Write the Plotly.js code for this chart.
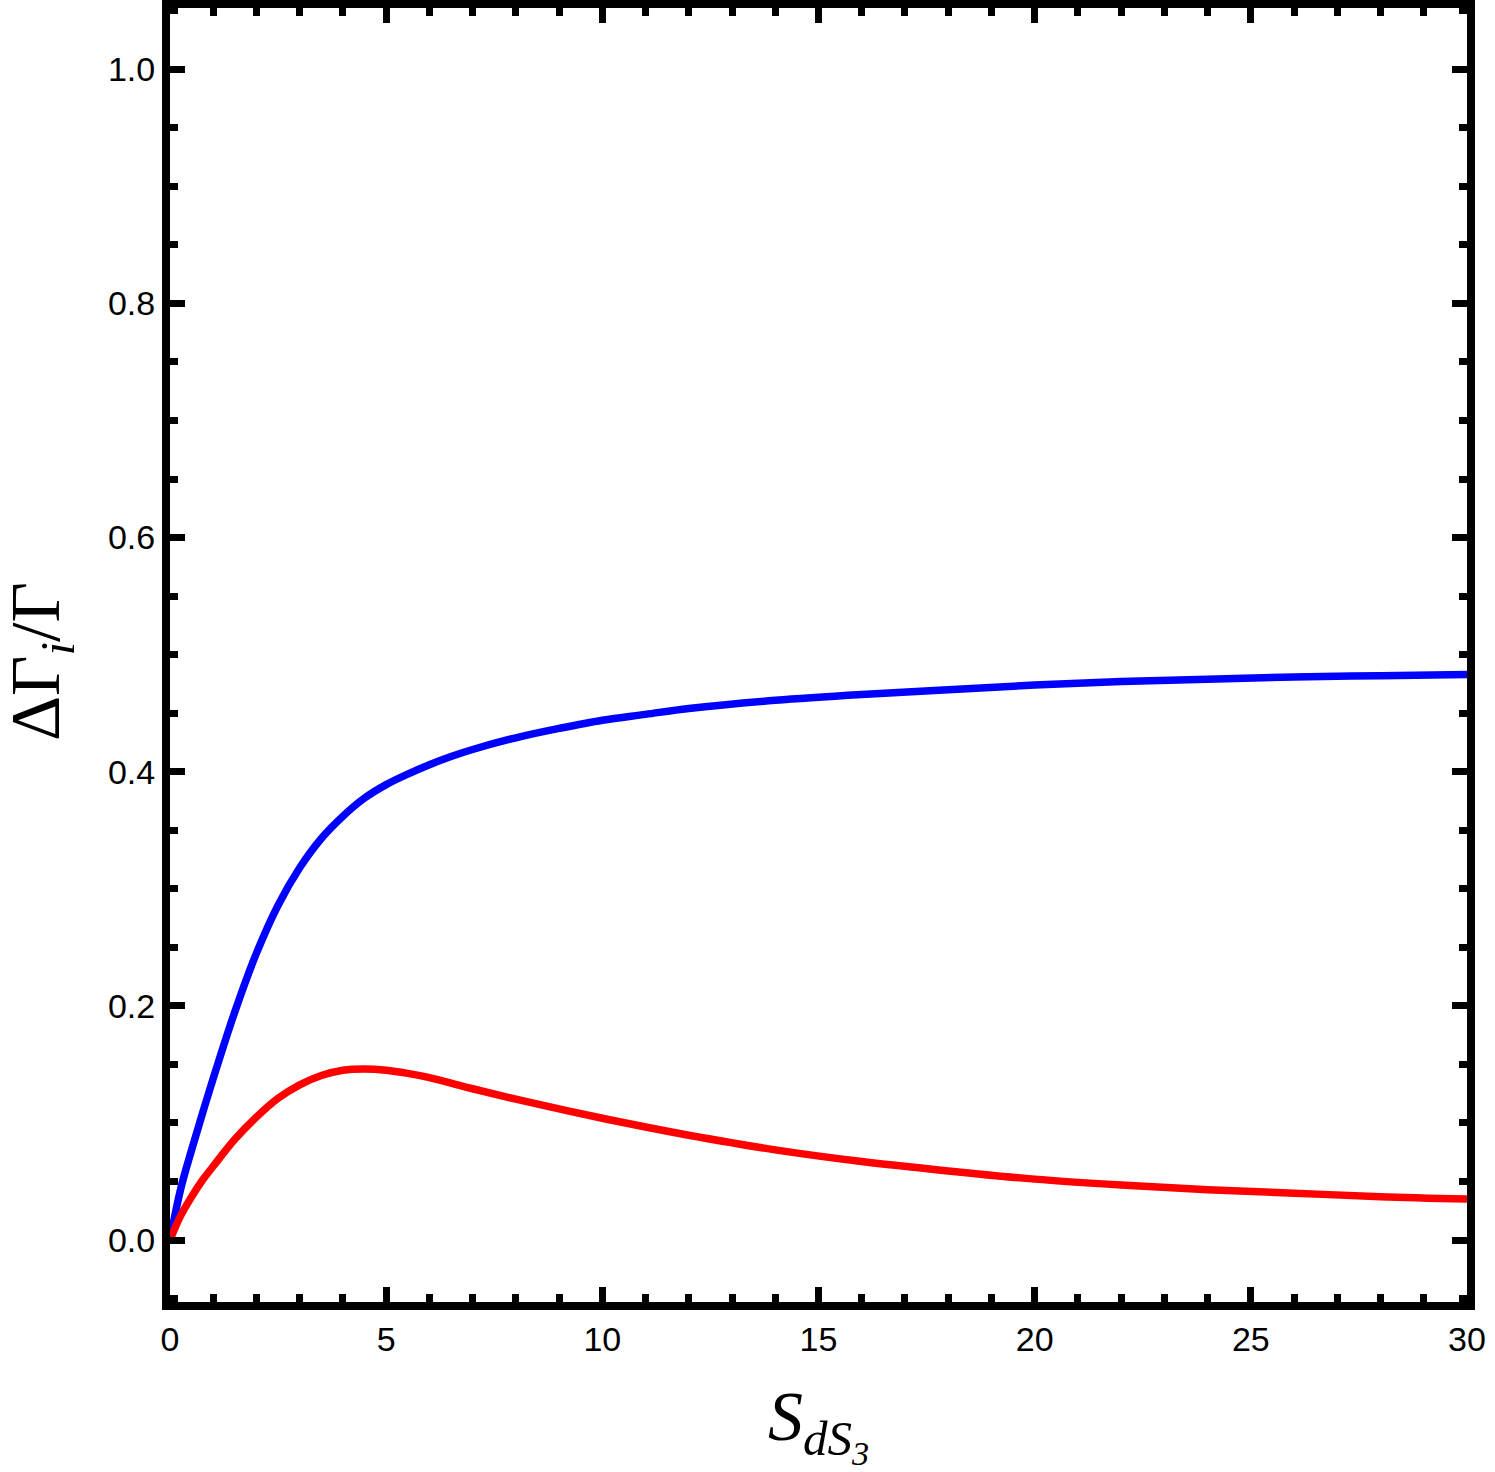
<!DOCTYPE html>
<html>
<head>
<meta charset="utf-8">
<script src="https://cdn.plot.ly/plotly-3.0.1.min.js"></script>
<style>
  html, body { margin: 0; padding: 0; background: #ffffff; }
  #chart { width: 1495px; height: 1472px; }
</style>
</head>
<body>
<div id="chart"></div>
<script>
// Values
const sValues = [0, 0.25, 0.5, 0.75, 1, 1.5, 2, 2.5, 3, 3.5, 4, 4.5, 5, 5.5, 6, 6.5, 7, 8, 9, 10, 11, 12, 14, 16, 18, 20, 22, 24, 26, 28, 30];
const blueSeries = [0, 0.044, 0.077, 0.108, 0.138, 0.195, 0.245, 0.286, 0.318, 0.343, 0.362, 0.3775, 0.389, 0.398, 0.406, 0.413, 0.419, 0.429, 0.437, 0.444, 0.449, 0.454, 0.461, 0.466, 0.470, 0.474, 0.477, 0.479, 0.481, 0.482, 0.483];
const redSeries  = [0, 0.021, 0.037, 0.051, 0.063, 0.086, 0.105, 0.121, 0.1325, 0.1405, 0.145, 0.146, 0.145, 0.1423, 0.1387, 0.134, 0.1292, 0.1203, 0.112, 0.104, 0.0965, 0.0895, 0.077, 0.067, 0.059, 0.052, 0.047, 0.043, 0.040, 0.037, 0.035];
const xTickVals = [0, 5, 10, 15, 20, 25, 30];
const yTickVals = [0.0, 0.2, 0.4, 0.6, 0.8, 1.0];
const xTitle = '<i>S<sub>dS<sub>3</sub></sub></i>';
const yTitle = 'ΔΓ<sub><i>i</i></sub>/Γ';

const traces = [
  { x: sValues, y: blueSeries, mode: 'lines', type: 'scatter',
    line: { color: '#0000ff', width: 7.5, shape: 'spline', smoothing: 1 }, hoverinfo: 'skip', showlegend: false },
  { x: sValues, y: redSeries, mode: 'lines', type: 'scatter',
    line: { color: '#ff0000', width: 7.5, shape: 'spline', smoothing: 1 }, hoverinfo: 'skip', showlegend: false }
];

const tickFont = { family: 'Liberation Sans, Arial, sans-serif', size: 34, color: '#000000' };
const titleFont = { family: 'Liberation Serif, Times New Roman, serif', size: 70, color: '#000000' };

const layout = {
  width: 1495, height: 1472,
  paper_bgcolor: '#ffffff', plot_bgcolor: '#ffffff',
  margin: { l: 170, r: 28, t: 8, b: 170 },
  showlegend: false,
  xaxis: {
    range: [0, 30],
    tickvals: xTickVals, ticktext: xTickVals.map(v => String(v)),
    ticks: 'inside', ticklen: 15, tickwidth: 7, tickcolor: '#000000',
    minor: { dtick: 1, tick0: 0, ticks: 'inside', ticklen: 8, tickwidth: 7, tickcolor: '#000000', showgrid: false },
    showline: true, linewidth: 8, linecolor: '#000000', mirror: 'allticks',
    showgrid: false, zeroline: false,
    tickfont: tickFont,
    automargin: false
  },
  yaxis: {
    range: [-0.05296, 1.05236],
    tickvals: yTickVals, ticktext: yTickVals.map(v => v.toFixed(1)),
    ticks: 'inside', ticklen: 15, tickwidth: 7, tickcolor: '#000000',
    minor: { dtick: 0.05, tick0: 0, ticks: 'inside', ticklen: 8, tickwidth: 7, tickcolor: '#000000', showgrid: false },
    showline: true, linewidth: 8, linecolor: '#000000', mirror: 'allticks',
    showgrid: false, zeroline: false,
    tickfont: tickFont,
    automargin: false
  },
  annotations: [
    { text: xTitle, xref: 'paper', yref: 'paper', x: 0.5, y: -0.0947,
      xanchor: 'center', yanchor: 'middle', showarrow: false, font: titleFont },
    { text: yTitle, xref: 'paper', yref: 'paper', x: -0.0994, y: 0.4946,
      xanchor: 'center', yanchor: 'middle', textangle: -90, showarrow: false, font: titleFont }
  ]
};

Plotly.newPlot('chart', traces, layout, { staticPlot: true, displayModeBar: false });
</script>
</body>
</html>
